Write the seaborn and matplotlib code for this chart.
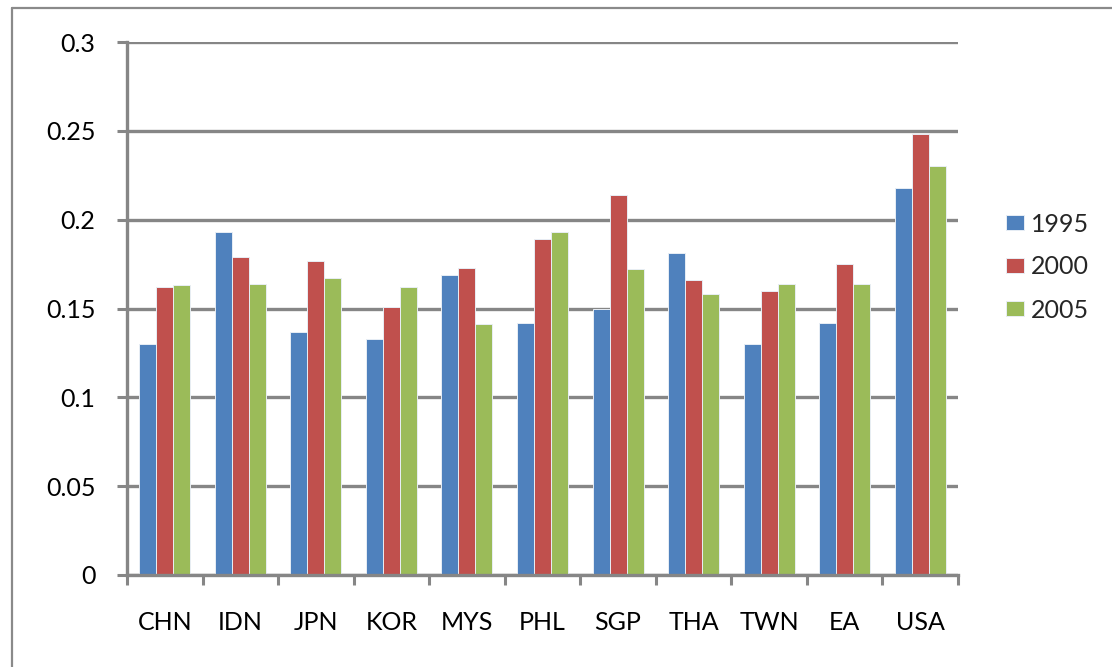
import matplotlib
matplotlib.use("Agg")
import matplotlib.pyplot as plt
import seaborn as sns
import pandas as pd
import numpy as np
from matplotlib.lines import Line2D
from matplotlib.ticker import FixedLocator, FixedFormatter

countries = ["CHN", "IDN", "JPN", "KOR", "MYS", "PHL", "SGP", "THA", "TWN", "EA", "USA"]
years = ["1995", "2000", "2005"]
v1995 = [0.130, 0.193, 0.137, 0.133, 0.169, 0.142, 0.150, 0.181, 0.130, 0.142, 0.218]
v2000 = [0.162, 0.179, 0.177, 0.151, 0.173, 0.189, 0.214, 0.166, 0.160, 0.175, 0.248]
v2005 = [0.163, 0.164, 0.167, 0.162, 0.141, 0.193, 0.172, 0.158, 0.164, 0.164, 0.230]
yticks = [0, 0.05, 0.1, 0.15, 0.2, 0.25, 0.3]
ytick_labels = ["0", "0.05", "0.1", "0.15", "0.2", "0.25", "0.3"]
colors = ["#4F81BD", "#C0504D", "#9BBB59"]

df = pd.DataFrame({
    "country": countries * 3,
    "year": [years[0]] * 11 + [years[1]] * 11 + [years[2]] * 11,
    "value": v1995 + v2000 + v2005,
})

sns.set_theme(style="white")
plt.rcParams["font.family"] = ["Lato", "DejaVu Sans"]

fig = plt.figure(figsize=(11.12, 6.67), dpi=100)
ax = fig.add_axes([127 / 1112, 1 - 575 / 667, (958 - 127) / 1112, (575 - 42) / 667])

grid_col = "#868686"
sns.barplot(data=df, x="country", y="value", hue="year", palette=colors,
            width=0.675, ax=ax, edgecolor="#e8eef5", linewidth=0.7,
            legend=True, saturation=1)

ax.set_ylim(0, 0.3)
ax.set_xlim(-0.5, len(countries) - 0.5)
ax.set_xlabel("")
ax.set_ylabel("")

# gridlines
ax.set_axisbelow(True)
ax.yaxis.set_major_locator(FixedLocator(yticks))
ax.yaxis.set_major_formatter(FixedFormatter(ytick_labels))
ax.grid(axis="y", color=grid_col, linewidth=2.4)
ax.grid(axis="x", visible=False)

for s in ["top", "right"]:
    ax.spines[s].set_visible(False)
for s in ["left", "bottom"]:
    ax.spines[s].set_color(grid_col)
    ax.spines[s].set_linewidth(2.4)

ax.tick_params(axis="y", which="major", length=7.2, width=2.2, color=grid_col,
               direction="out", pad=15.5, labelsize=18, labelcolor="black", left=True)
ax.tick_params(axis="x", which="major", length=0, pad=26, labelsize=18,
               labelcolor="black", bottom=True)
ax.xaxis.set_minor_locator(FixedLocator(np.arange(-0.5, len(countries), 1.0)))
ax.tick_params(axis="x", which="minor", length=7.2, width=2.2, color=grid_col,
               direction="out", bottom=True)

# legend
handles, labels = ax.get_legend_handles_labels()
ax.get_legend().remove()
fig.legend(handles, labels, loc="center left",
           bbox_to_anchor=(1006 / 1112, 1 - 267 / 667), frameon=False,
           fontsize=18, handlelength=0.7, handleheight=0.58,
           handletextpad=0.3, labelspacing=0.8, borderpad=0, borderaxespad=0)

# outer frame lines (partial chart border)
fig.add_artist(Line2D([12 / 1112, 1.0], [1 - 7.5 / 667, 1 - 7.5 / 667],
                      transform=fig.transFigure, color="#8a8a8a", linewidth=1.6))
fig.add_artist(Line2D([12 / 1112, 12 / 1112], [0.0, 1 - 7.5 / 667],
                      transform=fig.transFigure, color="#8a8a8a", linewidth=1.6))

fig.savefig("out.png", dpi=100, facecolor="white")
